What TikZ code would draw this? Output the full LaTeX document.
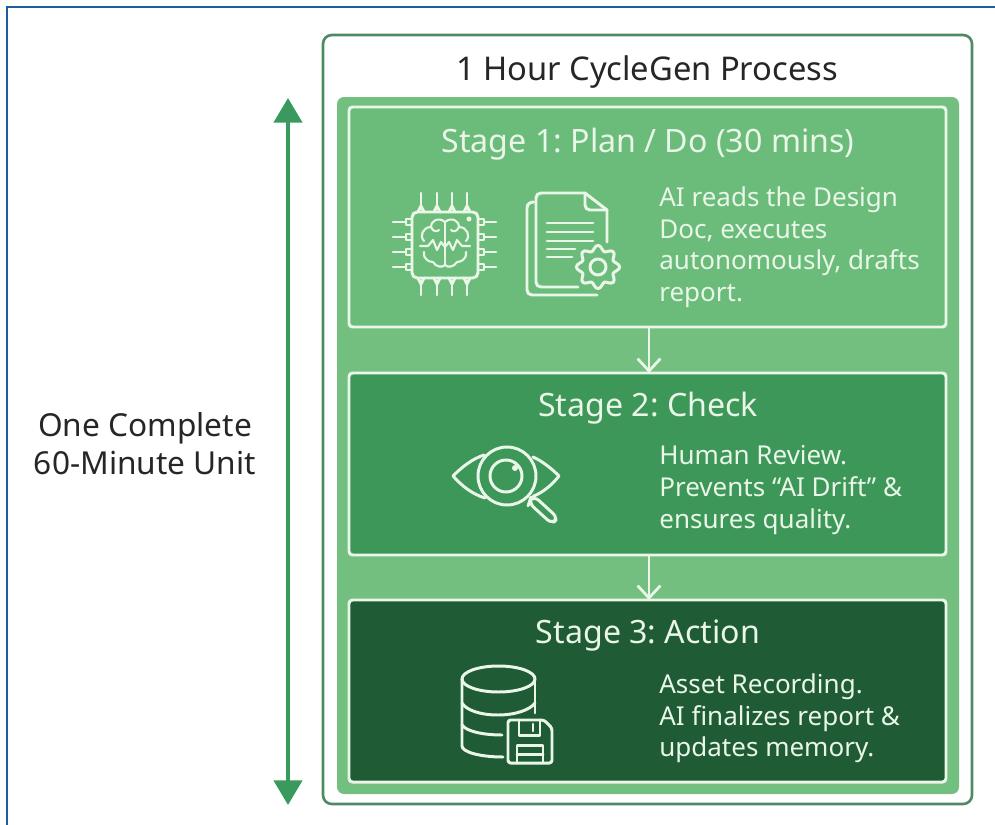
\documentclass[tikz,border=0pt]{standalone}
\usepackage{fontspec}
\setmainfont{Noto Sans}
\frenchspacing
\usetikzlibrary{arrows.meta}
\definecolor{framec}{HTML}{1B5E9B}
\definecolor{outerc}{HTML}{4F8A63}
\definecolor{panelc}{HTML}{72BF7F}
\definecolor{onec}{HTML}{6BBC7B}
\definecolor{twoc}{HTML}{3D9759}
\definecolor{threec}{HTML}{1F5B34}
\definecolor{arrowc}{HTML}{3A9A5E}
\definecolor{linec}{HTML}{E9F6E8}
\tikzset{
  stagebox/.style={draw=linec, line width=1.7pt, rounded corners=2pt, inner sep=0pt},
  stagetitle/.style={text=linec, font=\fontsize{18.3}{20}\selectfont},
  stagetext/.style={text=linec, anchor=north west, align=left, inner sep=0pt, font=\fontsize{14.8}{18.15}\selectfont},
  icon/.style={draw=linec, line width=1.7pt, line cap=round, line join=round},
  thinicon/.style={icon, line width=1.2pt},
  flow/.style={linec, line width=1.6pt, -{Straight Barb[length=7pt,width=13pt]}},
}
\begin{document}
\begin{tikzpicture}[x=0.02cm,y=-0.02cm]
\useasboundingbox (0,0) rectangle (995,825);
\fill[white] (0,0) rectangle (995,825);
\draw[framec, line width=1.7pt] (7,825) -- (7,7) -- (995,7);
% boxes
\draw[outerc, line width=1.5pt, rounded corners=5pt] (323,35) rectangle (972,804);
\fill[panelc, rounded corners=4pt] (337,97) rectangle (959,794);
\draw[stagebox, fill=onec] (349,107) rectangle (946,327);
\draw[stagebox, fill=twoc] (349,373) rectangle (946,555);
\draw[stagebox, fill=threec] (349,600) rectangle (946,782);
\coordinate (s1b) at (649,327);
\coordinate (s2t) at (649,373);
\coordinate (s2b) at (649,555);
\coordinate (s3t) at (649,600);
\draw[flow] (s1b) -- (s2t);
\draw[flow] (s2b) -- (s3t);
% side arrow
\coordinate (top) at (288,98);
\coordinate (bot) at (288,805);
\draw[arrowc, line width=2.2pt, {Triangle[length=14pt,width=16pt]}-{Triangle[length=14pt,width=16pt]}] (top) -- (bot);
% text
\node[text=black!85, font=\fontsize{18.6}{22}\selectfont] (title) at (647,72) {1 Hour CycleGen Process};
\node[text=black!85, align=center, font=\fontsize{18}{21.5}\selectfont] (unit) at (145,444) {One Complete\\60-Minute Unit};
\node[stagetitle] (t1) at (648,144) {Stage 1: Plan / Do (30 mins)};
\node[stagetitle] (t2) at (648,408) {Stage 2: Check};
\node[stagetitle] (t3) at (648,636) {Stage 3: Action};
\node[stagetext] (d1) at (659,186) {AI reads the Design\\Doc, executes\\autonomously, drafts\\report.};
\node[stagetext] (d2) at (659,445) {Human Review.\\Prevents “AI Drift” \&\\ensures quality.};
\node[stagetext] (d3) at (659,673) {Asset Recording.\\AI finalizes report \&\\updates memory.};
% chip
\draw[icon, rounded corners=3pt] (412,212) rectangle (478,278);
\fill[linec] (469,219) circle (2.5);
\foreach \p in {421,437,452,467} {
  \draw[icon] (\p,193) -- (\p,206);
  \draw[icon] (\p-3,212) -- (\p,206) -- (\p+3,212);
  \draw[icon] (\p,295) -- (\p,284);
  \draw[icon] (\p-3,278) -- (\p,284) -- (\p+3,278);
}
\foreach \p in {222,237,252,267} {
  \draw[icon] (393,\p) -- (406,\p);
  \draw[icon] (412,\p-3) -- (406,\p-3) -- (406,\p+3) -- (412,\p+3);
  \draw[icon] (496,\p) -- (484,\p);
  \draw[icon] (478,\p-3) -- (484,\p-3) -- (484,\p+3) -- (478,\p+3);
}
% brain
\draw[thinicon] (445,222) .. controls (438,216) and (430,222) .. (431,227) .. controls (423,227) and (419,236) .. (424,241);
\draw[thinicon] (445,222) .. controls (452,216) and (460,222) .. (459,227) .. controls (467,227) and (471,236) .. (466,241);
\draw[thinicon] (424,252) .. controls (423,260) and (430,262) .. (433,262) .. controls (436,267) and (442,268) .. (445,265);
\draw[thinicon] (466,252) .. controls (467,260) and (460,262) .. (457,262) .. controls (454,267) and (448,268) .. (445,265);
\draw[thinicon] (445,222) -- (445,265);
\draw[thinicon] (420,246) -- (428,246) -- (433,240) -- (437,250) -- (441,242) -- (445,247) -- (449,242) -- (453,250) -- (457,240) -- (462,246) -- (470,246);
\draw[thinicon] (431,227) .. controls (433,232) and (437,232) .. (439,230);
\draw[thinicon] (459,227) .. controls (457,232) and (453,232) .. (451,230);
% doc
\draw[icon] (607,242) -- (607,210) -- (585,193) -- (541,193) .. controls (538,193) and (536,195) .. (536,198) -- (536,282) .. controls (536,285) and (538,287) .. (541,287) -- (578,287);
\draw[icon] (585,193) -- (585,205) .. controls (585,208) and (587,210) .. (590,210) -- (607,210);
\draw[icon] (534,202) .. controls (530,202) and (527,204) .. (527,208) -- (527,290) .. controls (527,293) and (529,295) .. (532,295) -- (597,295);
\foreach \y/\e in {223/593,232/593,241/593,249/575,257/572} {
  \draw[icon] (547,\y) -- (\e,\y);
}
% gear
\draw[icon] (598,267) circle (8);
\draw[icon] plot[samples=65, domain=0:360, smooth] ({598+(19+2.6*cos(8*\x))*cos(\x)},{267+(19+2.6*cos(8*\x))*sin(\x)});
% eye
\draw[icon] (507,476) circle (29);
\draw[icon] (506,476) circle (16);
\fill[linec] (515,468) circle (3);
\draw[icon] (484,455) .. controls (472,459) and (462,467) .. (453,476) .. controls (462,486) and (472,494) .. (485,498);
\draw[icon] (533,457) .. controls (542,461) and (551,468) .. (559,476) .. controls (551,486) and (543,492) .. (534,496);
\draw[icon, rounded corners=3.5pt] (530,500) -- (534,496) -- (558,518) -- (552,524) -- (529,503) -- cycle;
% database
\draw[icon] (498.5,679) ellipse (36.5 and 13);
\draw[icon] (462,679) -- (462,746) .. controls (462,752) and (480,757) .. (503,757);
\draw[icon] (535,679) -- (535,713);
\draw[icon] (462,703) .. controls (466,710) and (480,715) .. (498,715) .. controls (515,715) and (530,710) .. (535,703);
\draw[icon] (462,725) .. controls (466,731) and (482,735) .. (502,735);
% floppy
\draw[icon, rounded corners=1.5pt] (508,720) -- (544,720) -- (552,728) -- (552,763) -- (508,763) -- cycle;
\draw[icon] (519,720) -- (519,735) -- (540,735) -- (540,720);
\draw[icon] (533,724) -- (533,731);
\draw[icon] (517,763) -- (517,745) -- (543,745) -- (543,763);
\draw[icon] (517,754) -- (543,754);
\end{tikzpicture}
\end{document}
